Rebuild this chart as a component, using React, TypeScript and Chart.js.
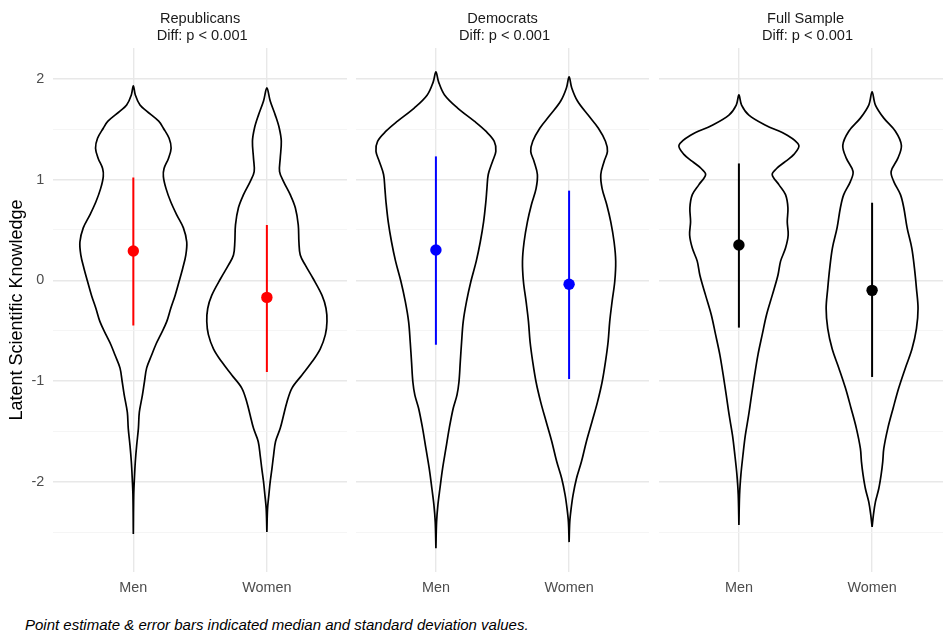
import React, { useEffect, useRef } from "react";
import { Chart, registerables } from "chart.js";

Chart.register(...registerables);

const FONT = "'Liberation Sans', Arial, Helvetica, sans-serif";

// ---- categories / labels ----
const categories = ["Men", "Women"];
const panelNames = ["Republicans", "Democrats", "Full Sample"];
const panelDiff = [" Diff: p < 0.001", " Diff: p < 0.001", " Diff: p < 0.001"];
const pointColors = ["#ff0000", "#0000ff", "#000000"];
const yTickValues = [-2.5, -2, -1.5, -1, -0.5, 0, 0.5, 1, 1.5, 2];
const yAxisTitle = "Latent Scientific Knowledge";
const captionText = "Point estimate & error bars indicated median and standard deviation values.";

// ---- violin profiles: knowledge value (top -> bottom) and half-width (category units) ----
const repMenY = [1.93, 1.84, 1.74, 1.68, 1.58, 1.51, 1.41, 1.31, 1.21, 1.11, 1.03, 0.91, 0.78, 0.65, 0.52, 0.38, 0.25, 0.12, -0.01, -0.15, -0.28, -0.41, -0.54, -0.64, -0.74, -0.87, -1.01, -1.14, -1.31, -1.47, -1.64, -1.80, -1.97, -2.13, -2.52];
const repMenW = [0, 0.015, 0.05, 0.10, 0.19, 0.225, 0.268, 0.283, 0.263, 0.23, 0.225, 0.245, 0.28, 0.325, 0.375, 0.40, 0.393, 0.37, 0.343, 0.313, 0.28, 0.25, 0.205, 0.168, 0.138, 0.10, 0.083, 0.068, 0.045, 0.038, 0.025, 0.015, 0.008, 0.003, 0];

const repWomenY = [1.91, 1.78, 1.64, 1.51, 1.38, 1.21, 1.08, 0.98, 0.85, 0.72, 0.55, 0.38, 0.25, 0.15, 0.02, -0.15, -0.28, -0.41, -0.54, -0.68, -0.81, -0.94, -1.07, -1.21, -1.34, -1.47, -1.60, -1.74, -1.87, -2.00, -2.13, -2.27, -2.50];
const repWomenW = [0, 0.025, 0.063, 0.093, 0.108, 0.10, 0.095, 0.125, 0.175, 0.213, 0.235, 0.24, 0.25, 0.288, 0.345, 0.413, 0.443, 0.45, 0.438, 0.40, 0.338, 0.263, 0.188, 0.15, 0.125, 0.10, 0.065, 0.05, 0.038, 0.025, 0.015, 0.005, 0];

const demMenY = [2.07, 1.97, 1.84, 1.71, 1.58, 1.48, 1.38, 1.28, 1.18, 1.05, 0.91, 0.78, 0.58, 0.38, 0.19, -0.01, -0.21, -0.41, -0.61, -0.81, -1.01, -1.14, -1.27, -1.47, -1.67, -1.87, -2.07, -2.23, -2.40, -2.66];
const demMenW = [0, 0.02, 0.065, 0.163, 0.288, 0.375, 0.438, 0.45, 0.425, 0.393, 0.383, 0.375, 0.358, 0.333, 0.303, 0.263, 0.23, 0.205, 0.193, 0.183, 0.173, 0.158, 0.13, 0.10, 0.075, 0.05, 0.03, 0.015, 0.005, 0];

const demWomenY = [2.02, 1.91, 1.78, 1.64, 1.51, 1.38, 1.28, 1.18, 1.05, 0.91, 0.75, 0.58, 0.38, 0.19, -0.01, -0.21, -0.41, -0.61, -0.81, -1.01, -1.21, -1.40, -1.60, -1.80, -1.97, -2.13, -2.27, -2.40, -2.60];
const demWomenW = [0, 0.02, 0.063, 0.143, 0.22, 0.273, 0.288, 0.263, 0.238, 0.248, 0.283, 0.313, 0.338, 0.35, 0.343, 0.323, 0.305, 0.293, 0.273, 0.248, 0.213, 0.173, 0.13, 0.093, 0.055, 0.03, 0.015, 0.005, 0];

const fullMenY = [1.84, 1.74, 1.64, 1.54, 1.44, 1.34, 1.25, 1.18, 1.11, 1.05, 0.95, 0.85, 0.72, 0.58, 0.45, 0.32, 0.19, 0.05, -0.15, -0.34, -0.54, -0.74, -0.94, -1.14, -1.34, -1.54, -1.74, -1.93, -2.13, -2.43];
const fullMenW = [0, 0.02, 0.075, 0.20, 0.363, 0.45, 0.413, 0.35, 0.283, 0.25, 0.30, 0.35, 0.368, 0.363, 0.37, 0.35, 0.313, 0.293, 0.25, 0.208, 0.175, 0.143, 0.118, 0.095, 0.073, 0.048, 0.03, 0.015, 0.005, 0];

const fullWomenY = [1.87, 1.74, 1.61, 1.48, 1.34, 1.21, 1.08, 0.98, 0.85, 0.72, 0.52, 0.32, 0.12, -0.08, -0.28, -0.48, -0.68, -0.87, -1.07, -1.27, -1.47, -1.67, -1.80, -1.93, -2.07, -2.20, -2.33, -2.45];
const fullWomenW = [0, 0.025, 0.088, 0.175, 0.22, 0.193, 0.143, 0.163, 0.213, 0.238, 0.263, 0.298, 0.318, 0.333, 0.345, 0.333, 0.30, 0.25, 0.20, 0.158, 0.118, 0.088, 0.08, 0.068, 0.05, 0.025, 0.01, 0];

// ---- point estimates (median) and error bars (median +/- sd), [Men, Women] ----
const repMedian = [0.29, -0.17];
const repLower = [-0.45, -0.91];
const repUpper = [1.02, 0.55];
const demMedian = [0.30, -0.04];
const demLower = [-0.64, -0.98];
const demUpper = [1.23, 0.89];
const fullMedian = [0.35, -0.10];
const fullLower = [-0.47, -0.96];
const fullUpper = [1.16, 0.77];

const panelViolins = [
  [[repMenY, repMenW], [repWomenY, repWomenW]],
  [[demMenY, demMenW], [demWomenY, demWomenW]],
  [[fullMenY, fullMenW], [fullWomenY, fullWomenW]],
];
const panelMedians = [repMedian, demMedian, fullMedian];
const panelLowers = [repLower, demLower, fullLower];
const panelUppers = [repUpper, demUpper, fullUpper];

// y range: data range expanded by 5% (like ggplot)
const allY = [repMenY, repWomenY, demMenY, demWomenY, fullMenY, fullWomenY].flat();
const dataMin = Math.min(...allY);
const dataMax = Math.max(...allY);
const yPad = (dataMax - dataMin) * 0.05;
const Y_MIN = dataMin - yPad;
const Y_MAX = dataMax + yPad;

function violinOutline(center: number, ys: number[], ws: number[]) {
  const right = ys.map((y, i) => ({ x: center + ws[i], y })).reverse();
  const left = ys.map((y, i) => ({ x: center - ws[i], y }));
  return [...right, ...left.slice(1)];
}

function isInt(v: number) {
  return Math.abs(v - Math.round(v)) < 1e-9;
}

function buildConfig(p: number, showY: boolean): any {
  const datasets: any[] = [];
  const color = pointColors[p];
  categories.forEach((_, ci) => {
    const center = ci + 1;
    datasets.push({
      type: "line",
      data: [{ x: center, y: panelMedians[p][ci] }],
      showLine: false,
      pointRadius: 5.7,
      pointHoverRadius: 0,
      pointBorderWidth: 0,
      pointBackgroundColor: color,
      pointBorderColor: color,
      order: 0,
    });
    datasets.push({
      type: "line",
      data: [
        { x: center, y: panelLowers[p][ci] },
        { x: center, y: panelUppers[p][ci] },
      ],
      borderColor: color,
      borderWidth: 2,
      pointRadius: 0,
      pointHoverRadius: 0,
      tension: 0,
      fill: false,
      order: 1,
    });
    const [ys, ws] = panelViolins[p][ci];
    datasets.push({
      type: "line",
      data: violinOutline(center, ys, ws),
      borderColor: "#000000",
      borderWidth: 1.7,
      pointRadius: 0,
      pointHoverRadius: 0,
      tension: 0.35,
      fill: false,
      order: 2,
    });
  });

  return {
    type: "line",
    data: { datasets },
    options: {
      responsive: false,
      animation: false,
      events: [],
      layout: { padding: 0, autoPadding: false },
      plugins: {
        legend: { display: false },
        tooltip: { enabled: false },
        title: {
          display: true,
          fullSize: false,
          text: [panelNames[p], panelDiff[p]],
          color: "#1a1a1a",
          font: { family: FONT, size: 14.6, weight: "normal", lineHeight: 1.15 },
          padding: { top: 10.5, bottom: 3.9 },
        },
      },
      scales: {
        x: {
          type: "linear",
          min: 0.4,
          max: 2.6,
          afterBuildTicks: (s: any) => {
            s.ticks = categories.map((_, i) => ({ value: i + 1 }));
          },
          afterFit: (s: any) => {
            s.height = 28;
          },
          grid: { color: "#e8e8e8", lineWidth: 1.4, drawTicks: false },
          border: { display: false },
          ticks: {
            padding: 7,
            color: "#4d4d4d",
            autoSkip: false,
            maxRotation: 0,
            font: { family: FONT, size: 14.4 },
            callback: (v: number) => categories[Math.round(v) - 1] ?? "",
          },
        },
        y: {
          type: "linear",
          min: Y_MIN,
          max: Y_MAX,
          afterBuildTicks: (s: any) => {
            s.ticks = yTickValues.map((v) => ({ value: v }));
          },
          afterFit: (s: any) => {
            s.width = showY ? 53.2 : 0;
          },
          grid: {
            drawTicks: false,
            color: (ctx: any) => (isInt(ctx.tick.value) ? "#e8e8e8" : "#f2f2f2"),
            lineWidth: (ctx: any) => (isInt(ctx.tick.value) ? 1.4 : 0.8),
          },
          border: { display: false },
          ticks: {
            display: showY,
            padding: 9,
            color: "#4d4d4d",
            font: { family: FONT, size: 14.4 },
            callback: (v: number) => (isInt(v) ? String(Math.round(v)) : ""),
          },
          title: {
            display: showY,
            text: yAxisTitle,
            color: "#000000",
            font: { family: FONT, size: 18 },
            padding: { top: 6.5, bottom: 0 },
          },
        },
      },
    },
  };
}

const panelLayout = [
  { left: 0, width: 347, showY: true },
  { left: 356, width: 293, showY: false },
  { left: 659, width: 293, showY: false },
];

export default function App() {
  const r0 = useRef<HTMLCanvasElement>(null);
  const r1 = useRef<HTMLCanvasElement>(null);
  const r2 = useRef<HTMLCanvasElement>(null);
  const refs = [r0, r1, r2];

  useEffect(() => {
    Chart.defaults.font.family = FONT;
    const charts = refs.map((r, i) =>
      new Chart(r.current as HTMLCanvasElement, buildConfig(i, panelLayout[i].showY))
    );
    return () => charts.forEach((c) => c.destroy());
  }, []);

  return (
    <div
      style={{
        position: "fixed",
        left: 0,
        top: 0,
        width: 943,
        height: 632,
        overflow: "hidden",
        background: "#ffffff",
      }}
    >
      {panelLayout.map((p, i) => (
        <canvas
          key={i}
          ref={refs[i]}
          width={p.width}
          height={600}
          style={{ position: "absolute", left: p.left, top: 0, width: p.width, height: 600 }}
        />
      ))}
      <div
        style={{
          position: "absolute",
          left: 25,
          top: 617,
          fontFamily: FONT,
          fontStyle: "italic",
          fontSize: 15,
          lineHeight: "16px",
          whiteSpace: "nowrap",
          color: "#000000",
        }}
      >
        {captionText}
      </div>
    </div>
  );
}
